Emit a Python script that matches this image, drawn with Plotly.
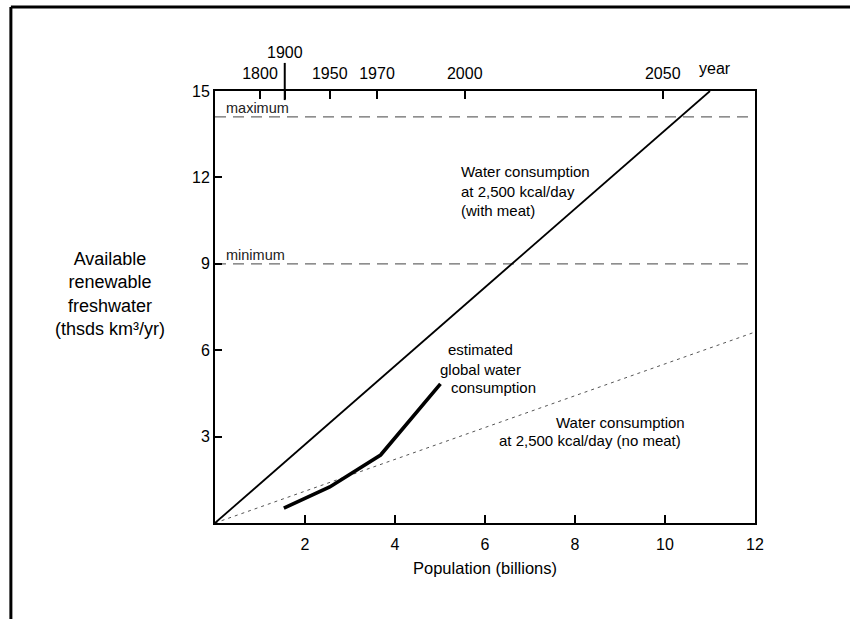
import plotly.graph_objects as go

# ---- data ----
pop_meat = [0.0, 11.0]
water_meat = [0.0, 15.0]
pop_nomeat = [0.0, 12.0]
water_nomeat = [0.0, 6.63]
pop_est = [1.53, 2.55, 3.68, 5.01]
water_est = [0.52, 1.25, 2.36, 4.83]
limit_names = ["maximum", "minimum"]
limit_values = [14.1, 9.0]
limit_span = [0.0, 12.0]
year_labels = ["1800", "1900", "1950", "1970", "2000", "2050"]
year_pop = [1.0, 1.55, 2.55, 3.6, 5.55, 9.95]
x_ticks = [2, 4, 6, 8, 10, 12]
y_ticks = [3, 6, 9, 12, 15]

FONT = "Liberation Sans, Arial, sans-serif"

fig = go.Figure()

# limit lines
for name, v in zip(limit_names, limit_values):
    fig.add_trace(go.Scatter(x=limit_span, y=[v, v], mode="lines",
                             line=dict(color="#6a6a6a", width=1.2, dash="11px,7px"),
                             hoverinfo="skip", showlegend=False))
    fig.add_annotation(x=0.2, y=v, text=name, showarrow=False, xanchor="left",
                       yanchor="bottom", yshift=-1, font=dict(size=14.5, color="#222"))

fig.add_trace(go.Scatter(x=pop_nomeat, y=water_nomeat, mode="lines",
                         line=dict(color="#555", width=1, dash="3px,4px"),
                         showlegend=False))
fig.add_trace(go.Scatter(x=pop_meat, y=water_meat, mode="lines",
                         line=dict(color="black", width=1.8), showlegend=False))
fig.add_trace(go.Scatter(x=pop_est, y=water_est, mode="lines",
                         line=dict(color="black", width=3.6), showlegend=False))
# invisible trace on the top (year) axis
fig.add_trace(go.Scatter(x=year_pop, y=[0] * len(year_pop), xaxis="x2", mode="markers",
                         marker=dict(opacity=0), hoverinfo="skip", showlegend=False))

top_text = [("" if y == "1900" else y) for y in year_labels]

fig.update_layout(
    width=850, height=619,
    margin=dict(l=215, r=95, t=91, b=96),
    paper_bgcolor="white", plot_bgcolor="white",
    font=dict(family=FONT, size=16, color="black"),
    xaxis=dict(range=[0, 12], tickvals=x_ticks, ticks="inside", ticklen=8, tickwidth=2,
               tickcolor="black", showline=True, linecolor="black", linewidth=2,
               mirror=True, showgrid=False, zeroline=False, ticklabelstandoff=6,
               title=dict(text="Population (billions)", font=dict(size=16.5), standoff=10),
               tickfont=dict(size=16)),
    xaxis2=dict(range=[0, 12], overlaying="x", side="top", tickvals=year_pop,
                ticktext=top_text, ticks="inside", ticklen=8, tickwidth=2, tickcolor="black",
                showline=False, showgrid=False, zeroline=False, ticklabelstandoff=8,
                tickfont=dict(size=16)),
    yaxis=dict(range=[0, 15], tickvals=y_ticks, ticks="inside", ticklen=7, tickwidth=2,
               tickcolor="black", showline=True, linecolor="black", linewidth=2,
               mirror=True, showgrid=False, zeroline=False, tickfont=dict(size=16)),
)

# the long 1900 tick and its raised label
fig.add_shape(type="line", xref="x2", yref="paper", x0=year_pop[1], x1=year_pop[1],
              y0=0.979, y1=1.065, line=dict(color="black", width=2))
fig.add_annotation(xref="x2", yref="paper", x=year_pop[1], y=1.09, text="1900",
                   showarrow=False, yanchor="middle", font=dict(size=16))
fig.add_annotation(xref="x2", yref="paper", x=11.1, y=1.053, text="year",
                   showarrow=False, yanchor="middle", font=dict(size=16))

# curve labels
fig.add_annotation(x=5.42, y=11.53, text="Water consumption<br>at 2,500 kcal/day<br>(with meat)",
                   showarrow=False, xanchor="left", align="left", font=dict(size=15))
fig.add_annotation(x=5.9, y=5.69, text="estimated<br>global water",
                   showarrow=False, align="center", font=dict(size=15))
fig.add_annotation(x=5.2, y=4.72, text="consumption", showarrow=False,
                   xanchor="left", font=dict(size=15))
fig.add_annotation(x=9.02, y=3.5, text="Water consumption", showarrow=False,
                   font=dict(size=15))
fig.add_annotation(x=8.33, y=2.88, text="at 2,500 kcal/day (no meat)", showarrow=False,
                   font=dict(size=15))

# y axis title
fig.add_annotation(xref="paper", yref="paper", x=-0.194, y=0.53,
                   xanchor="center", yanchor="middle",
                   text="Available<br>renewable<br>freshwater<br>(thsds km³/yr)",
                   showarrow=False, align="center", font=dict(size=18))

# outer frame (top and left edges)
fig.add_shape(type="line", xref="paper", yref="paper", x0=-0.378, x1=1.2,
              y0=1.1944, y1=1.1944, line=dict(color="black", width=3))
fig.add_shape(type="line", xref="paper", yref="paper", x0=-0.378, x1=-0.378,
              y0=-0.25, y1=1.1944, line=dict(color="black", width=3))

fig.write_html("out.html", config={"displayModeBar": False},
               post_script="document.body.style.margin='0';document.body.style.overflow='hidden';")
